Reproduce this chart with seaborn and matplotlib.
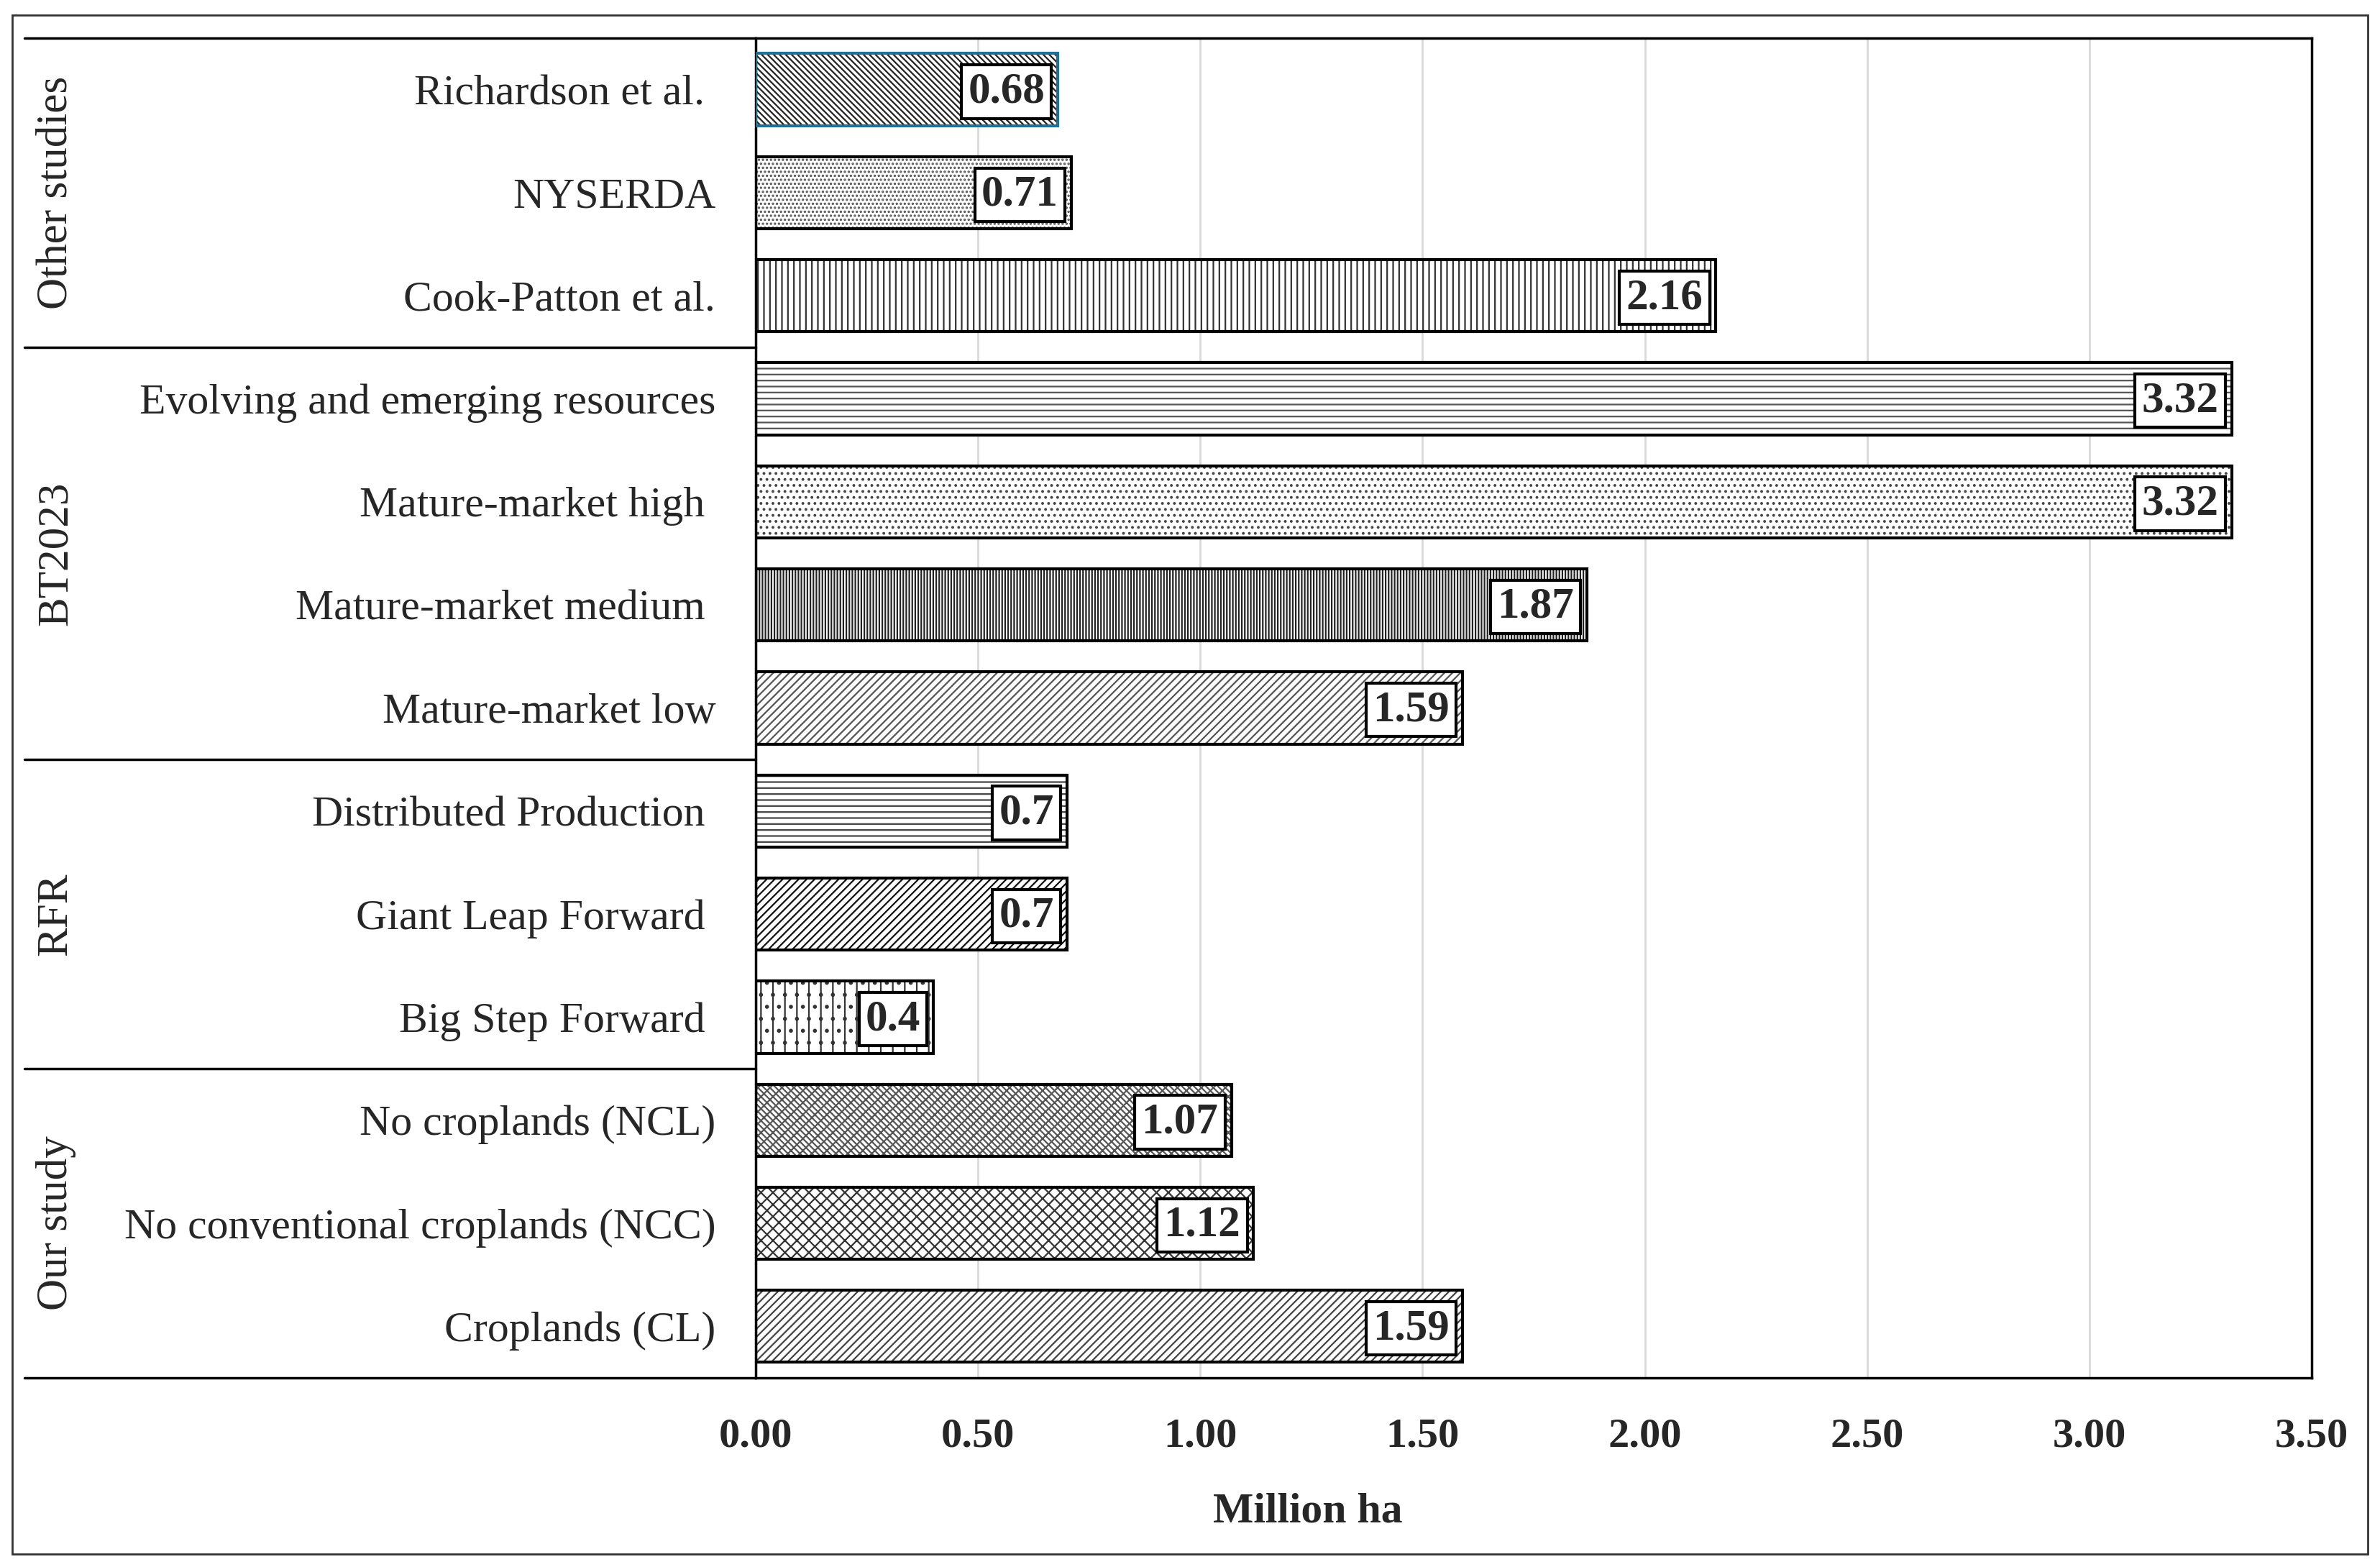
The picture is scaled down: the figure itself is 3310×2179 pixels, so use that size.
import matplotlib
matplotlib.use("Agg")
import matplotlib.pyplot as plt
import matplotlib.transforms as mtransforms
from matplotlib.patches import Rectangle
import seaborn as sns
import pandas as pd

# ---- data ----
categories = ["Richardson et al. ", "NYSERDA", "Cook-Patton et al.",
              "Evolving and emerging resources", "Mature-market high ",
              "Mature-market medium ", "Mature-market low",
              "Distributed Production ", "Giant Leap Forward ", "Big Step Forward ",
              "No croplands (NCL)", "No conventional croplands (NCC)", "Croplands (CL)"]
values = [0.68, 0.71, 2.16, 3.32, 3.32, 1.87, 1.59, 0.7, 0.7, 0.4, 1.07, 1.12, 1.59]
value_labels = ["0.68", "0.71", "2.16", "3.32", "3.32", "1.87", "1.59",
                "0.7", "0.7", "0.4", "1.07", "1.12", "1.59"]
groups = ["Other studies", "BT2023", "RFR", "Our study"]
group_sizes = [3, 4, 3, 3]
x_ticks = [0.0, 0.5, 1.0, 1.5, 2.0, 2.5, 3.0, 3.5]
x_label = "Million ha"

# ---- styling ----
hatches = ["\\\\\\\\", "...", "||", "--", "..", "||||", "///",
           "--", "///", ".|", "xx\\\\", "xx", "///"]
hatch_colors = ["#222222", "#555555", "#333333", "#555555", "#444444", "#222222", "#555555",
                "#444444", "#111111", "#333333", "#555555", "#333333", "#444444"]

sns.set_theme(style="white")
plt.rcParams["font.family"] = ["Liberation Serif", "DejaVu Serif"]
plt.rcParams["hatch.linewidth"] = 1.6

df = pd.DataFrame({"category": categories, "value": values})

fig = plt.figure(figsize=(33.1, 21.79), dpi=100)
ax = fig.add_axes([0.3175, 0.1207, 0.9713 - 0.3175, 0.9757 - 0.1207])

# vertical grid lines
for t in x_ticks:
    ax.axvline(t, color="#d9d9d9", lw=2, zorder=0)

sns.barplot(data=df, x="value", y="category", orient="h", color="white",
            width=0.7, linewidth=0, ax=ax, zorder=2)
bars = list(ax.patches)
for p, h, c in zip(bars, hatches, hatch_colors):
    p.set_hatch(h)
    p.set_edgecolor(c)
    p.set_facecolor("white")

sns.barplot(data=df, x="value", y="category", orient="h", fill=False, color="black",
            width=0.7, linewidth=3, ax=ax, zorder=3)
outlines = list(ax.patches)[len(bars):]
outlines[0].set_edgecolor("#1f6f96")

# value labels in white boxes
for p, lbl in zip(bars, value_labels):
    ax.annotate(lbl, xy=(p.get_x() + p.get_width(), p.get_y() + p.get_height() / 2),
                xytext=(-13, -2), textcoords="offset points", ha="right", va="center",
                fontsize=44, fontweight="bold", zorder=5,
                bbox=dict(boxstyle="square,pad=0.15", fc="white", ec="black", lw=3))

ax.set_xlim(x_ticks[0], x_ticks[-1])
ax.set_ylim(len(categories) - 0.5, -0.5)
ax.set_xticks(x_ticks)
ax.set_xticklabels([f"{t:.2f}" for t in x_ticks], fontsize=42, fontweight="bold")
ax.tick_params(axis="x", length=0, pad=40)
ax.tick_params(axis="y", length=0, pad=40, labelsize=43)
ax.set_ylabel("")
ax.set_xlabel(x_label, fontsize=43, fontweight="bold", labelpad=36)
ax.xaxis.set_label_coords(0.355, -0.1)
ax.xaxis.label.set_va("center")
for s in ax.spines.values():
    s.set_visible(True)
    s.set_color("black")
    s.set_linewidth(2.5)

# group separators and group labels in the left table area
trans = mtransforms.blended_transform_factory(ax.transAxes, ax.transData)
left_x = -0.470
start = 0
bounds = [-0.5]
for g, n in zip(groups, group_sizes):
    center = start + (n - 1) / 2
    ax.text(-0.4496, center, g, rotation=90, ha="center", va="center",
            fontsize=44, transform=trans)
    start += n
    bounds.append(start - 0.5)
for b in bounds:
    ax.plot([left_x, 0], [b, b], color="black", lw=2.5, transform=trans, clip_on=False)

# outer frame
fig.patches.append(Rectangle((17 / 3310, 1 - 2161 / 2179), (3293 - 17) / 3310,
                             (2161 - 21) / 2179, transform=fig.transFigure,
                             fill=False, ec="#333333", lw=2))

fig.savefig("out.png", dpi=100, facecolor="white")
